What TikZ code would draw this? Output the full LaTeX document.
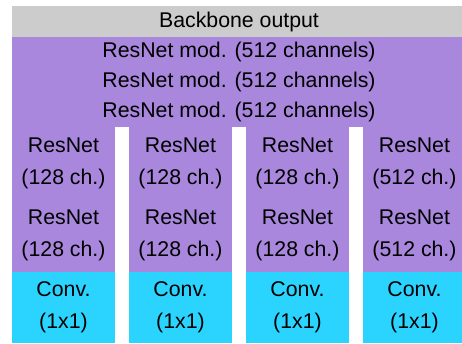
\documentclass[tikz,border=0pt]{standalone}
\usepackage{fontspec}
\setmainfont{Liberation Sans}
\usepackage{tikz}
\usetikzlibrary{positioning}
\definecolor{bbgray}{HTML}{CCCCCC}
\definecolor{rpurple}{HTML}{A987DD}
\definecolor{rcyan}{HTML}{2AD4FE}
\tikzset{
 blk/.style={inner sep=0pt,outer sep=0pt,align=center,text=black,
   font=\fontsize{21.3}{32}\selectfont},
 headbox/.style={blk,fill=bbgray,minimum width=454pt,minimum height=31pt},
 modbox/.style={blk,fill=rpurple,minimum width=454pt,minimum height=30pt},
 resbox/.style={blk,fill=rpurple,minimum width=103pt,minimum height=72.5pt},
 convbox/.style={blk,fill=rcyan,minimum width=103pt,minimum height=71pt}
}

\begin{document}
\begin{tikzpicture}[x=1pt,y=-1pt,node distance=0pt]
 \fill[white] (0,0) rectangle (462,343);
 \clip (0,0) rectangle (462,343);
 % shared trunk
 \node[headbox] (head) at (239,21.5) {Backbone output};
 \node[modbox,below=of head] (mod1) {ResNet mod. (512 channels)};
 \node[modbox,below=of mod1] (mod2) {ResNet mod. (512 channels)};
 \node[modbox,below=of mod2] (mod3) {ResNet mod. (512 channels)};
 % four branches
 \node[resbox,anchor=north west] (res1a) at (12,127) {ResNet\\(128 ch.)};
 \node[resbox,below=of res1a] (res1b) {ResNet\\(128 ch.)};
 \node[convbox,below=of res1b] (conv1) {Conv.\\(1x1)};
 \node[resbox,anchor=north west] (res2a) at (129,127) {ResNet\\(128 ch.)};
 \node[resbox,below=of res2a] (res2b) {ResNet\\(128 ch.)};
 \node[convbox,below=of res2b] (conv2) {Conv.\\(1x1)};
 \node[resbox,anchor=north west] (res3a) at (246,127) {ResNet\\(128 ch.)};
 \node[resbox,below=of res3a] (res3b) {ResNet\\(128 ch.)};
 \node[convbox,below=of res3b] (conv3) {Conv.\\(1x1)};
 \node[resbox,anchor=north west] (res4a) at (363,127) {ResNet\\(512 ch.)};
 \node[resbox,below=of res4a] (res4b) {ResNet\\(512 ch.)};
 \node[convbox,below=of res4b] (conv4) {Conv.\\(1x1)};
\end{tikzpicture}
\end{document}
